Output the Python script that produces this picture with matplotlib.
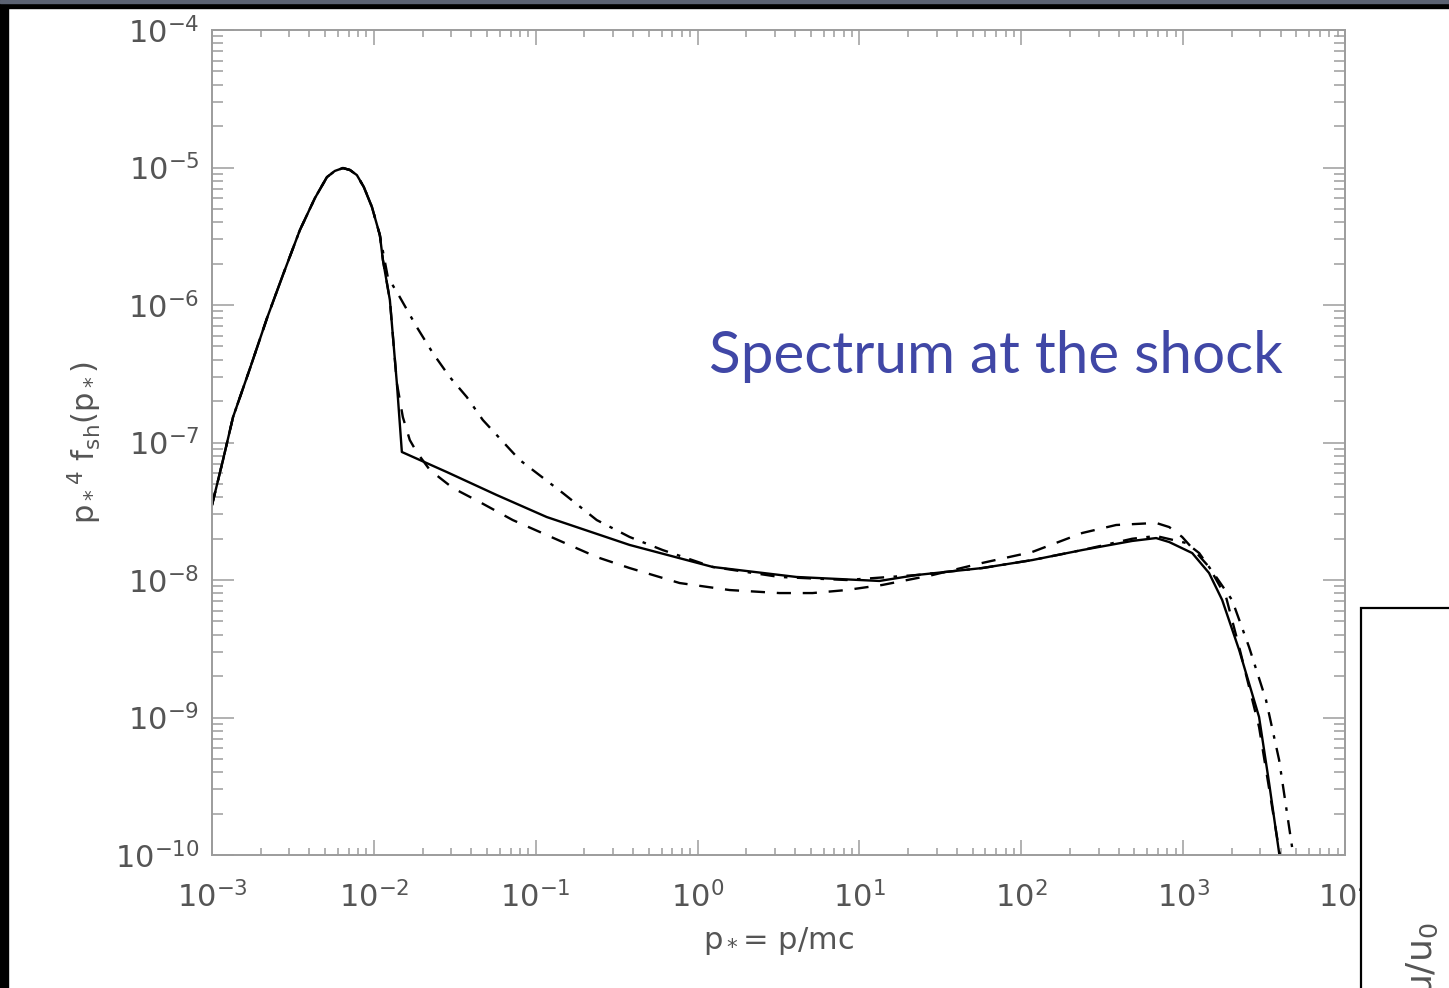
import numpy as np
import matplotlib
matplotlib.use("Agg")
import matplotlib.pyplot as plt
from matplotlib.patches import Rectangle
from matplotlib.ticker import LogLocator, NullFormatter

# === DATA (log10 values) ===
# common low-energy (thermal) part, all three curves overlap here
rise_lp = [-3.0, -2.932, -2.870, -2.765, -2.660, -2.562, -2.457, -2.364, -2.290, -2.241,
           -2.191, -2.148, -2.105, -2.062, -2.012, -1.963]
rise_lf = [-7.455, -7.127, -6.815, -6.46, -6.095, -5.782, -5.455, -5.222, -5.07, -5.025,
           -5.004, -5.018, -5.055, -5.142, -5.287, -5.491]

solid_lp = [-1.944, -1.901, -1.858, -1.827, -1.549, -1.241, -0.932, -0.420, 0.093, 0.611,
            1.123, 1.352, 1.759, 2.068, 2.377, 2.685, 2.833, 2.914, 3.056, 3.160,
            3.241, 3.346, 3.469, 3.531, 3.593, 3.61]
solid_lf = [-5.673, -5.964, -6.567, -7.069, -7.215, -7.382, -7.542, -7.745, -7.905, -7.978,
            -8.007, -7.964, -7.913, -7.855, -7.782, -7.716, -7.695, -7.724, -7.804, -7.949,
            -8.145, -8.509, -8.996, -9.476, -9.985, -10.1]

dash_lp = [-1.944, -1.901, -1.858, -1.821, -1.778, -1.735, -1.654, -1.512, -1.346, -1.142,
           -0.932, -0.623, -0.420, -0.111, 0.198, 0.506, 0.710, 0.920, 1.142, 1.451,
           1.759, 2.068, 2.377, 2.586, 2.833, 2.914, 2.994, 3.160, 3.265, 3.346,
           3.469, 3.593, 3.61]
dash_lf = [-5.673, -5.964, -6.567, -6.815, -6.982, -7.07, -7.2, -7.331, -7.433, -7.564,
           -7.673, -7.833, -7.913, -8.022, -8.073, -8.095, -8.095, -8.073, -8.036, -7.964,
           -7.876, -7.796, -7.658, -7.6, -7.585, -7.615, -7.687, -7.905, -8.124, -8.487,
           -9.069, -9.964, -10.1]

dd_lp = [-1.914, -1.840, -1.735, -1.636, -1.531, -1.426, -1.327, -1.099, -0.833, -0.623,
         -0.420, -0.216, 0.093, 0.506, 0.920, 1.352, 1.759, 2.068, 2.377, 2.685,
         2.833, 3.019, 3.099, 3.204, 3.302, 3.407, 3.512, 3.593, 3.673, 3.69]
dd_lf = [-5.796, -5.942, -6.160, -6.349, -6.524, -6.669, -6.836, -7.127, -7.367, -7.564,
         -7.687, -7.782, -7.905, -7.978, -8.0, -7.964, -7.913, -7.855, -7.782, -7.70,
         -7.68, -7.731, -7.804, -7.978, -8.145, -8.487, -8.873, -9.309, -9.942, -10.1]

XLIM = (1e-3, 1e4)
YLIM = (1e-10, 1e-4)

AXIS_GREY = "#9c9c9c"
LABEL_GREY = "#555555"


def curve(lp, lf):
    return 10 ** np.array(rise_lp + lp), 10 ** np.array(rise_lf + lf)


# === FIGURE ===
fig = plt.figure(figsize=(14.49, 9.88), dpi=100)
fig.patch.set_facecolor("white")
ax = fig.add_axes([212 / 1449, 1 - 855 / 988, (1345 - 212) / 1449, (855 - 30) / 988])

ax.plot(*curve(solid_lp, solid_lf), color="black", lw=1.7)
ax.plot(*curve(dash_lp, dash_lf), color="black", lw=1.7, dashes=(6, 5))
ax.plot(*curve(dd_lp, dd_lf), color="black", lw=1.7, dashes=(6, 4, 1.5, 4))

ax.set_xscale("log")
ax.set_yscale("log")
ax.set_xlim(*XLIM)
ax.set_ylim(*YLIM)

ax.xaxis.set_major_locator(LogLocator(base=10, numticks=20))
ax.yaxis.set_major_locator(LogLocator(base=10, numticks=20))
ax.xaxis.set_minor_locator(LogLocator(base=10, subs=np.arange(2, 10), numticks=100))
ax.yaxis.set_minor_locator(LogLocator(base=10, subs=np.arange(2, 10), numticks=100))
ax.xaxis.set_minor_formatter(NullFormatter())
ax.yaxis.set_minor_formatter(NullFormatter())

for s in ax.spines.values():
    s.set_color(AXIS_GREY)
    s.set_linewidth(1.4)

ax.tick_params(which="both", direction="in", top=True, right=True, color=AXIS_GREY,
               width=1.1, labelcolor=LABEL_GREY, labelsize=22)
ax.tick_params(axis="y", which="major", length=16, pad=9)
ax.tick_params(axis="y", which="minor", length=8)
ax.tick_params(axis="x", which="major", length=11, pad=19)
ax.tick_params(axis="x", which="minor", length=5)

ax.set_xlabel(r"p$_*$= p/mc", fontsize=22, color=LABEL_GREY, labelpad=8)
ax.set_ylabel(r"p$_*$$^4$ f$_{\rm sh}$(p$_*$)", fontsize=22, color=LABEL_GREY, labelpad=8)

ax.text(0.945, 0.604, "Spectrum at the shock", transform=ax.transAxes, ha="right",
        va="center", fontsize=42, color="#4047a6", family="Lato")

# slide decorations: dark frame on top/left, neighbouring panel at bottom right
fig.patches.append(Rectangle((0, 1 - 8 / 988), 1, 8 / 988, transform=fig.transFigure,
                             color="black", zorder=10))
fig.patches.append(Rectangle((0, 1 - 3 / 988), 1, 3 / 988, transform=fig.transFigure,
                             color="#5b6272", zorder=11))
fig.patches.append(Rectangle((0, 0), 8 / 1449, 1, transform=fig.transFigure,
                             color="black", zorder=10))
fig.patches.append(Rectangle((1361 / 1449, -0.01), 0.2, 0.01 + (988 - 608) / 988,
                             transform=fig.transFigure, facecolor="white",
                             edgecolor="black", lw=1.6, zorder=12))
fig.text(1422 / 1449, 66 / 988, r"u/u$_0$", rotation=90, fontsize=26, color=LABEL_GREY,
         ha="center", va="top", zorder=13)

fig.savefig("out.png", dpi=100)
print("saved out.png")
